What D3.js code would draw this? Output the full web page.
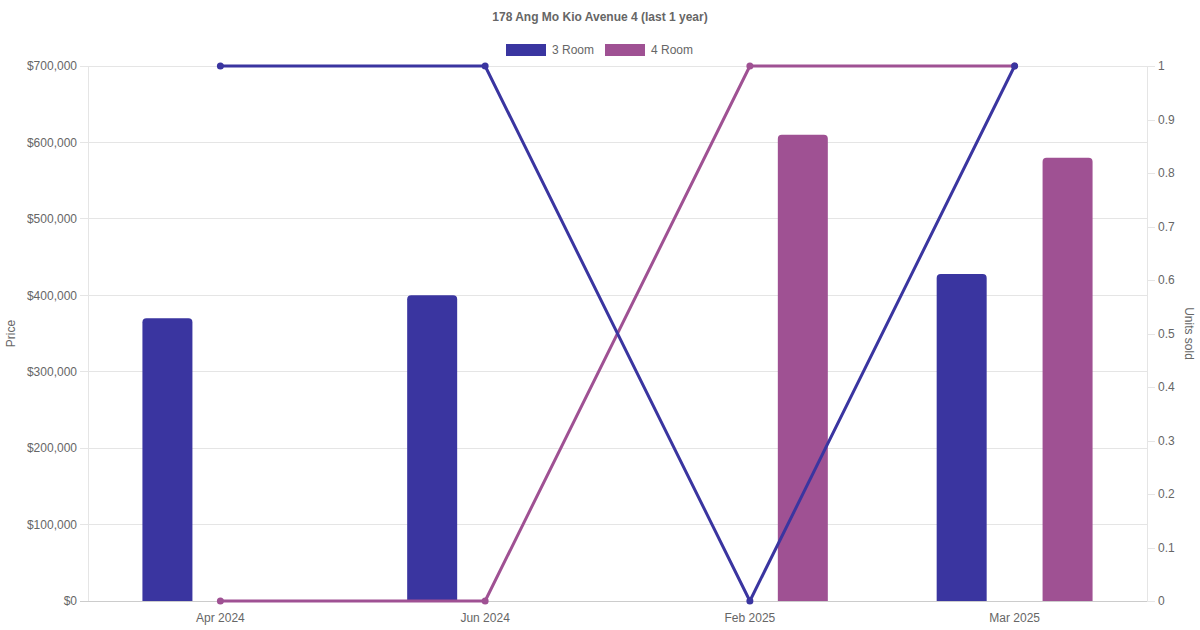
<!DOCTYPE html>
<html>
<head>
<meta charset="utf-8">
<script src="https://cdn.jsdelivr.net/npm/d3@7"></script>
<style>
    html, body { margin: 0; padding: 0; background: #fff; }
    svg { display: block; font-family: 'Liberation Sans', Arial, sans-serif; }
</style>
</head>
<body>
<svg id="chart" width="1200" height="630"></svg>
<script>
// Chart values
const months = ['Apr 2024', 'Jun 2024', 'Feb 2025', 'Mar 2025'];
const seriesNames = ['3 Room', '4 Room'];
const threeRoomPrice = [370000, 400000, null, 428000];
const fourRoomPrice = [null, null, 610000, 580000];
const threeRoomUnits = [1, 1, 0, 1];
const fourRoomUnits = [0, 0, 1, 1];
const priceTicks = [0, 100000, 200000, 300000, 400000, 500000, 600000, 700000];
const unitTicks = [0, 0.1, 0.2, 0.3, 0.4, 0.5, 0.6, 0.7, 0.8, 0.9, 1];

const colors = ['#3a35a0', '#9f5193'];
const textColor = '#666666';
const gridColor = '#e5e5e5';

// plot area
const margin = { left: 88, right: 53, top: 66, bottom: 29 };
const width = 1200, height = 630;
const plotW = width - margin.left - margin.right;
const plotH = height - margin.top - margin.bottom;

const svg = d3.select('#chart');

const x = d3.scaleBand().domain(months).range([0, plotW]).padding(0);
// two bar slots in 80% of each category
const xInner = d3.scaleBand().domain(seriesNames)
    .range([x.bandwidth() * 0.1, x.bandwidth() * 0.9]).padding(0);
const barW = Math.min(xInner.bandwidth() * 0.9, 50);

const yPrice = d3.scaleLinear().domain([0, 700000]).range([plotH, 0]);
const yUnits = d3.scaleLinear().domain([0, 1]).range([plotH, 0]);

// Title
svg.append('text')
    .attr('x', width / 2).attr('y', 21)
    .attr('text-anchor', 'middle')
    .attr('font-size', 12).attr('font-weight', 'bold')
    .attr('fill', textColor)
    .text('178 Ang Mo Kio Avenue 4 (last 1 year)');

// Legend
const legendItems = [
    { name: seriesNames[0], color: colors[0], x: 506 },
    { name: seriesNames[1], color: colors[1], x: 605 }
];
const legend = svg.append('g');
legendItems.forEach((d) => {
    legend.append('rect')
        .attr('x', d.x).attr('y', 44).attr('width', 40).attr('height', 12)
        .attr('fill', d.color);
    legend.append('text')
        .attr('x', d.x + 46).attr('y', 54)
        .attr('font-size', 12).attr('fill', textColor)
        .text(d.name);
});

const chart = svg.append('g').attr('transform', `translate(${margin.left}, ${margin.top})`);

// Horizontal grid from the price axis
chart.append('g')
    .selectAll('line')
    .data(priceTicks)
    .join('line')
    .attr('x1', -8).attr('x2', plotW)
    .attr('y1', (d) => yPrice(d)).attr('y2', (d) => yPrice(d))
    .attr('stroke', (d) => (d === 0 ? '#cccccc' : gridColor))
    .attr('stroke-width', 1)
    .attr('shape-rendering', 'crispEdges');

// Left and right borders
chart.append('line')
    .attr('x1', 0).attr('x2', 0).attr('y1', 0).attr('y2', plotH)
    .attr('stroke', gridColor).attr('shape-rendering', 'crispEdges');
chart.append('line')
    .attr('x1', plotW).attr('x2', plotW).attr('y1', 0).attr('y2', plotH)
    .attr('stroke', gridColor).attr('shape-rendering', 'crispEdges');

// Left axis (price)
const yAxisLeft = d3.axisLeft(yPrice)
    .tickValues(priceTicks)
    .tickSize(0)
    .tickPadding(11)
    .tickFormat((d) => '$' + d3.format(',')(d));
const gLeft = chart.append('g').call(yAxisLeft);
gLeft.select('.domain').remove();
gLeft.selectAll('text').attr('fill', textColor).attr('font-size', 12)
    .attr('font-family', "'Liberation Sans', Arial, sans-serif");

// Right axis (units)
const yAxisRight = d3.axisRight(yUnits)
    .tickValues(unitTicks)
    .tickSize(8)
    .tickPadding(3)
    .tickFormat((d) => d3.format('~g')(d));
const gRight = chart.append('g').attr('transform', `translate(${plotW}, 0)`).call(yAxisRight);
gRight.select('.domain').remove();
gRight.selectAll('line').attr('stroke', gridColor).attr('shape-rendering', 'crispEdges');
gRight.selectAll('text').attr('fill', textColor).attr('font-size', 12)
    .attr('font-family', "'Liberation Sans', Arial, sans-serif");

// Bottom axis
const xAxis = d3.axisBottom(x).tickSize(0).tickPadding(12);
const gBottom = chart.append('g').attr('transform', `translate(0, ${plotH})`).call(xAxis);
gBottom.select('.domain').remove();
gBottom.selectAll('text').attr('fill', textColor).attr('font-size', 12)
    .attr('font-family', "'Liberation Sans', Arial, sans-serif");

// Axis titles
svg.append('text')
    .attr('transform', `translate(15, ${margin.top + plotH / 2}) rotate(-90)`)
    .attr('text-anchor', 'middle')
    .attr('font-size', 12).attr('fill', textColor)
    .text('Price');
svg.append('text')
    .attr('transform', `translate(1185, ${margin.top + plotH / 2}) rotate(90)`)
    .attr('text-anchor', 'middle')
    .attr('font-size', 12).attr('fill', textColor)
    .text('Units sold');

// Rounded-top bar path
function barPath(x0, y0, w, h, r) {
    r = Math.min(r, h, w / 2);
    return `M${x0},${y0 + h}V${y0 + r}Q${x0},${y0} ${x0 + r},${y0}` +
        `H${x0 + w - r}Q${x0 + w},${y0} ${x0 + w},${y0 + r}V${y0 + h}Z`;
}

const barData = [];
[threeRoomPrice, fourRoomPrice].forEach((values, si) => {
    values.forEach((v, i) => {
        if (v !== null) barData.push({ month: months[i], series: seriesNames[si], value: v, color: colors[si] });
    });
});

chart.append('g')
    .selectAll('path')
    .data(barData)
    .join('path')
    .attr('fill', (d) => d.color)
    .attr('d', (d) => {
        const cx = x(d.month) + xInner(d.series) + xInner.bandwidth() / 2;
        const top = yPrice(d.value);
        return barPath(cx - barW / 2, top, barW, plotH - top, 4);
    });

// Lines for units sold
const line = d3.line()
    .x((d, i) => x(months[i]) + x.bandwidth() / 2)
    .y((d) => yUnits(d));

[fourRoomUnits, threeRoomUnits].forEach((values) => {
    const color = values === threeRoomUnits ? colors[0] : colors[1];
    chart.append('path')
        .datum(values)
        .attr('fill', 'none')
        .attr('stroke', color)
        .attr('stroke-width', 3)
        .attr('stroke-linejoin', 'round')
        .attr('d', line);
    chart.append('g')
        .selectAll('circle')
        .data(values)
        .join('circle')
        .attr('cx', (d, i) => x(months[i]) + x.bandwidth() / 2)
        .attr('cy', (d) => yUnits(d))
        .attr('r', 3.5)
        .attr('fill', color);
});
</script>
</body>
</html>
